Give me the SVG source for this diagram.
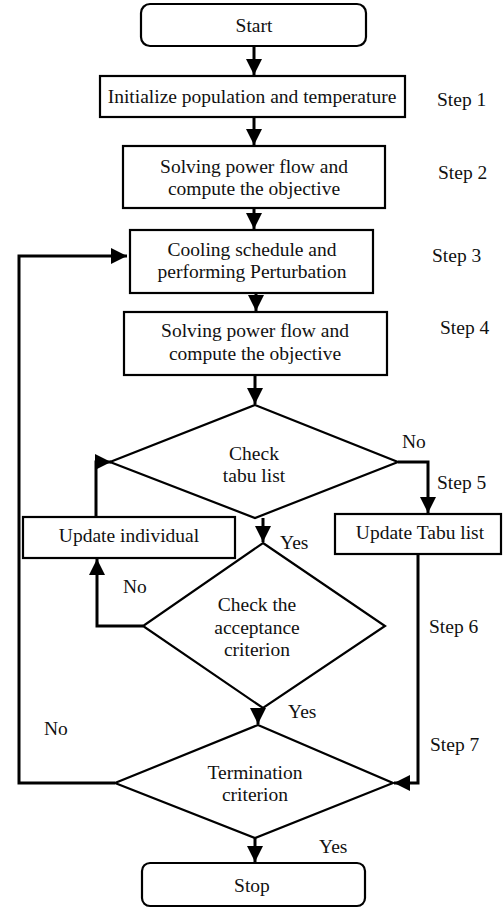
<svg xmlns="http://www.w3.org/2000/svg" width="503" height="908" viewBox="0 0 503 908" font-family="Liberation Serif, DejaVu Serif, serif">
<style>
text{font-size:19.5px;fill:#111;text-anchor:middle}
.lbl{text-anchor:start}
.box{fill:#fff;stroke:#000;stroke-width:2.2}
.c{fill:none;stroke:#000;stroke-width:3}
</style>
<defs>
<marker id="ah" markerUnits="userSpaceOnUse" markerWidth="18" markerHeight="18" refX="16" refY="8" orient="auto">
<path d="M0,0 L16,8 L0,16 Z" fill="#000"/>
</marker>
</defs>
<rect width="503" height="908" fill="#fff"/>
<g id="connectors">
<path class="c" d="M254,46 V75" marker-end="url(#ah)"/>
<path class="c" d="M254,117 V145" marker-end="url(#ah)"/>
<path class="c" d="M254,208 V229" marker-end="url(#ah)"/>
<path class="c" d="M256,293 V311" marker-end="url(#ah)"/>
<path class="c" d="M255,375 V404" marker-end="url(#ah)"/>
<path class="c" d="M398,462 H428 V513" marker-end="url(#ah)"/>
<path class="c" d="M96,517 V462 H111" marker-end="url(#ah)"/>
<path class="c" d="M263,518 V542" marker-end="url(#ah)"/>
<path class="c" d="M143,626 H97 V559" marker-end="url(#ah)"/>
<path class="c" d="M258,708 V724" marker-end="url(#ah)"/>
<path class="c" d="M418,554 V783 H394" marker-end="url(#ah)"/>
<path class="c" d="M115,783 H19 V256 H127" marker-end="url(#ah)"/>
<path class="c" d="M255,838 V862" marker-end="url(#ah)"/>
</g>
<g id="start"><rect class="box" x="141" y="4" width="225" height="42" rx="9"/><text x="254" y="32">Start</text></g>
<g id="init"><rect class="box" x="100" y="76" width="305" height="41"/><text x="252" y="103">Initialize population and temperature</text></g>
<g id="solve1"><rect class="box" x="123" y="146" width="262" height="62"/><text x="254" y="173">Solving power flow and</text><text x="254" y="195">compute the objective</text></g>
<g id="cooling"><rect class="box" x="130" y="230" width="243" height="63"/><text x="252" y="256">Cooling schedule and</text><text x="252" y="278">performing Perturbation</text></g>
<g id="solve2"><rect class="box" x="124" y="312" width="263" height="63"/><text x="255" y="337">Solving power flow and</text><text x="255" y="360">compute the objective</text></g>
<g id="tabu"><polygon class="box" points="255,405 398,462 255,518 110,462"/><text x="254" y="460">Check</text><text x="254" y="482">tabu list</text></g>
<g id="updind"><rect class="box" x="23" y="517" width="212" height="41"/><text x="129" y="542">Update individual</text></g>
<g id="updtabu"><rect class="box" x="335" y="514" width="166" height="40"/><text x="420" y="539">Update Tabu list</text></g>
<g id="accept"><polygon class="box" points="263,543 385,626 263,708 143,626"/><text x="257" y="611">Check the</text><text x="257" y="634">acceptance</text><text x="257" y="656">criterion</text></g>
<g id="term"><polygon class="box" points="258,725 393,783 255,838 115,783"/><text x="255" y="779">Termination</text><text x="255" y="801">criterion</text></g>
<g id="stop"><rect class="box" x="142" y="863" width="223" height="43" rx="8"/><text x="252" y="892">Stop</text></g>
<g id="labels">
<text class="lbl" x="437" y="106">Step 1</text>
<text class="lbl" x="438" y="179">Step 2</text>
<text class="lbl" x="432" y="262">Step 3</text>
<text class="lbl" x="440" y="334">Step 4</text>
<text class="lbl" x="437" y="489">Step 5</text>
<text class="lbl" x="429" y="633">Step 6</text>
<text class="lbl" x="430" y="751">Step 7</text>
<text class="lbl" x="402" y="448">No</text>
<text class="lbl" x="280" y="549">Yes</text>
<text class="lbl" x="123" y="593">No</text>
<text class="lbl" x="288" y="718">Yes</text>
<text class="lbl" x="44" y="735">No</text>
<text class="lbl" x="319" y="853">Yes</text>
</g>
</svg>
